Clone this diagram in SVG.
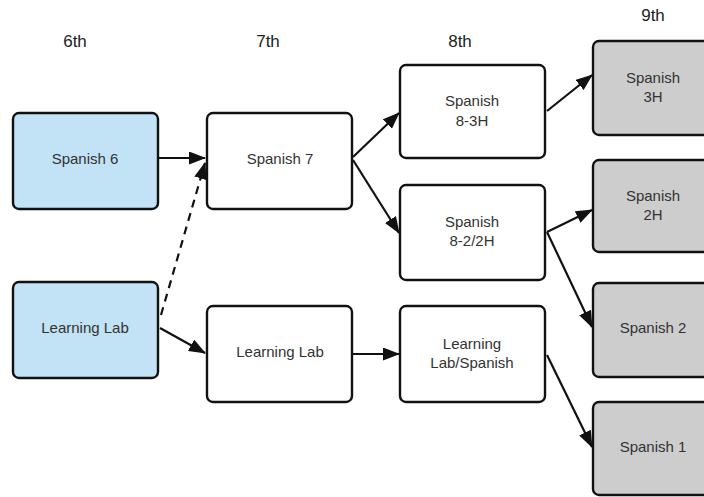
<svg xmlns="http://www.w3.org/2000/svg" width="704" height="497" viewBox="0 0 704 497">
<style>
.box{stroke:#111;stroke-width:2.4}
.blue{fill:#c2e2f5}
.white{fill:#fff}
.gray{fill:#cdcdcd}
text{font-family:"Liberation Sans",Arial,sans-serif;font-size:15px;fill:#333;text-anchor:middle}
.hdr{font-size:17px;fill:#222}
.c{stroke:#111;stroke-width:2.2;fill:none}
.d{stroke-dasharray:8,6}
</style>
<defs>
<marker id="a" viewBox="0 0 17 13" refX="16" refY="6.5" markerWidth="17" markerHeight="13" markerUnits="userSpaceOnUse" orient="auto">
<path d="M0,0 L17,6.5 L0,13 z" fill="#111"/>
</marker>
</defs>
<rect width="704" height="497" fill="#fff"/>
<g id="headers">
<text class="hdr" x="75" y="47">6th</text>
<text class="hdr" x="268" y="47">7th</text>
<text class="hdr" x="460" y="47">8th</text>
<text class="hdr" x="653" y="21">9th</text>
</g>
<g id="connectors">
<line class="c" x1="159" y1="158" x2="205" y2="158" marker-end="url(#a)"/>
<line class="c d" x1="161" y1="315" x2="205" y2="163" marker-end="url(#a)"/>
<line class="c" x1="160" y1="328" x2="205" y2="353" marker-end="url(#a)"/>
<line class="c" x1="353" y1="157" x2="399" y2="113" marker-end="url(#a)"/>
<line class="c" x1="353" y1="160" x2="399" y2="233" marker-end="url(#a)"/>
<line class="c" x1="547" y1="111" x2="592" y2="75" marker-end="url(#a)"/>
<line class="c" x1="547" y1="232" x2="592" y2="210" marker-end="url(#a)"/>
<line class="c" x1="547" y1="232" x2="592" y2="327" marker-end="url(#a)"/>
<line class="c" x1="353" y1="354" x2="399" y2="354" marker-end="url(#a)"/>
<line class="c" x1="547" y1="355" x2="592" y2="447" marker-end="url(#a)"/>
</g>
<g id="spanish6"><rect class="box blue" x="13" y="113" width="145" height="96" rx="6"/><text x="85" y="164">Spanish 6</text></g>
<g id="learninglab6"><rect class="box blue" x="13" y="282" width="145" height="96" rx="6"/><text x="85" y="333">Learning Lab</text></g>
<g id="spanish7"><rect class="box white" x="207" y="113" width="145" height="96" rx="6"/><text x="280" y="164">Spanish 7</text></g>
<g id="learninglab7"><rect class="box white" x="207" y="306" width="145" height="96" rx="6"/><text x="280" y="357">Learning Lab</text></g>
<g id="spanish83h"><rect class="box white" x="400" y="65" width="145" height="93" rx="6"/><text x="472" y="105.5">Spanish</text><text x="472" y="125.5">8-3H</text></g>
<g id="spanish822h"><rect class="box white" x="400" y="185" width="145" height="95" rx="6"/><text x="472" y="226.5">Spanish</text><text x="472" y="245.5">8-2/2H</text></g>
<g id="lablspanish"><rect class="box white" x="400" y="306" width="145" height="96" rx="6"/><text x="472" y="348.5">Learning</text><text x="472" y="367.5">Lab/Spanish</text></g>
<g id="spanish3h"><rect class="box gray" x="593" y="41" width="122" height="94" rx="6"/><text x="653" y="82.5">Spanish</text><text x="653" y="101.5">3H</text></g>
<g id="spanish2h"><rect class="box gray" x="593" y="160" width="122" height="92" rx="6"/><text x="653" y="200.5">Spanish</text><text x="653" y="219.5">2H</text></g>
<g id="spanish2"><rect class="box gray" x="593" y="283" width="122" height="94" rx="6"/><text x="653" y="333">Spanish 2</text></g>
<g id="spanish1"><rect class="box gray" x="593" y="402" width="122" height="93" rx="6"/><text x="653" y="452">Spanish 1</text></g>
</svg>
